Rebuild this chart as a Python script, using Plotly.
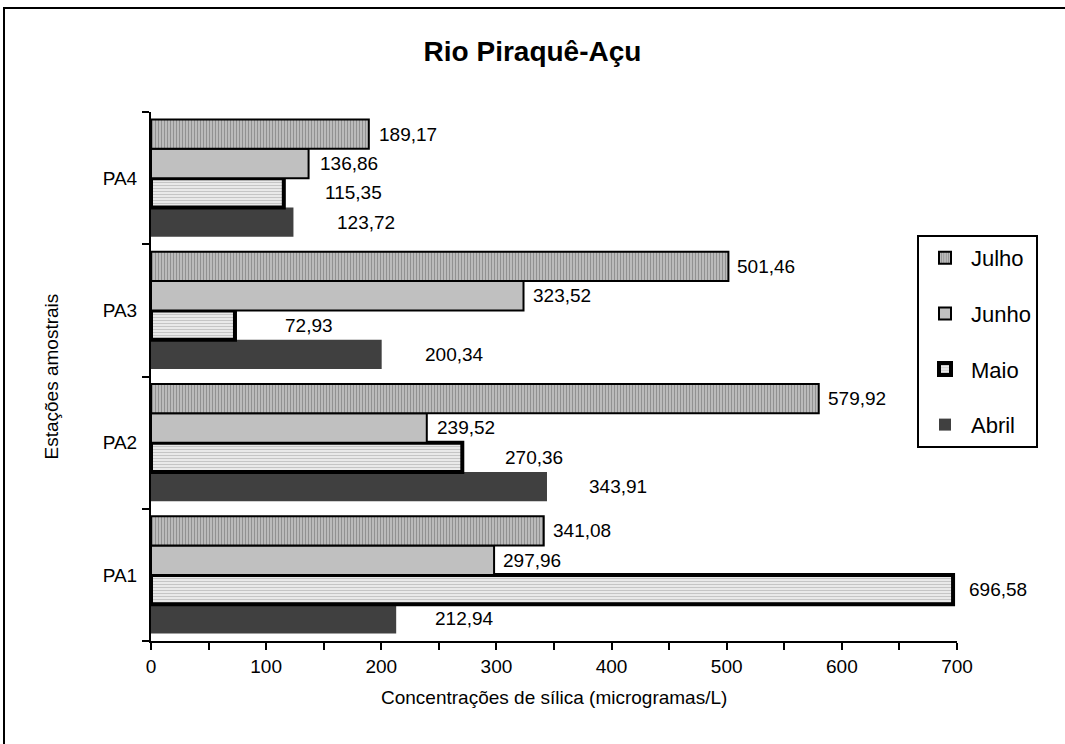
import plotly.graph_objects as go

# ---- data ----
stations = ["PA1", "PA2", "PA3", "PA4"]
abril = [212.94, 343.91, 200.34, 123.72]
maio = [696.58, 270.36, 72.93, 115.35]
junho = [297.96, 239.52, 323.52, 136.86]
julho = [341.08, 579.92, 501.46, 189.17]
x_ticks = [0, 100, 200, 300, 400, 500, 600, 700]

title_text = "Rio Piraquê-Açu"
x_title = "Concentrações de sílica (microgramas/L)"
y_title = "Estações amostrais"

# ---- styling ----
FONT = "Liberation Sans, Arial, sans-serif"
W, H = 1065, 744
PL, PR, PT, PB = 151, 957, 112, 641  # plot area in pixels

series = [
    dict(name="Abril", vals=abril, rank=4,
         marker=dict(color="#404040", line=dict(width=0, color="black")),
         shift=[68, 71, 73, 73], yoff=-1.5),
    dict(name="Maio", vals=maio, rank=3,
         marker=dict(color="white", line=dict(width=4, color="black"),
                     pattern=dict(shape="-", fgcolor="#9a9a9a", bgcolor="#f0f0f0",
                                  size=3, solidity=0.45)),
         shift=[45, 72, 74, 70], yoff=-0.5),
    dict(name="Junho", vals=junho, rank=2,
         marker=dict(color="#c0c0c0", line=dict(width=2, color="black")),
         shift=[38, 39, 38, 40], yoff=0.5),
    dict(name="Julho", vals=julho, rank=1,
         marker=dict(color="#b0b0b0", line=dict(width=2, color="black"),
                     pattern=dict(shape="|", fgcolor="#5a5a5a", bgcolor="#c8c8c8",
                                  size=3, solidity=0.5)),
         shift=[38, 38, 38, 39], yoff=1.5),
]

BARGAP = 0.114
band_px = (PB - PT) / len(stations)
bar_px = band_px * (1 - BARGAP) / len(series)

fig = go.Figure()
annotations = []
for s in series:
    fig.add_trace(go.Bar(
        y=stations, x=s["vals"], orientation="h", name=s["name"],
        marker=s["marker"], legendgroup=s["name"], legendrank=s["rank"],
    ))
    for st, v, sh in zip(stations, s["vals"], s["shift"]):
        annotations.append(dict(
            x=v, y=st, xref="x", yref="y", text=f"{v:.2f}".replace(".", ","),
            showarrow=False, xanchor="center", yanchor="middle",
            xshift=sh, yshift=s["yoff"] * bar_px,
            font=dict(family=FONT, size=19, color="black"),
        ))

pw, ph = PR - PL, PB - PT

def px_x(p):
    return (p - PL) / pw

def px_y(p):
    return (PB - p) / ph

annotations.append(dict(
    x=0.5, y=px_y(697), xref="paper", yref="paper", text=x_title,
    showarrow=False, xanchor="center", yanchor="middle",
    font=dict(family=FONT, size=19, color="black")))
annotations.append(dict(
    x=px_x(51), y=0.5, xref="paper", yref="paper", text=y_title, textangle=-90,
    showarrow=False, xanchor="center", yanchor="middle",
    font=dict(family=FONT, size=19, color="black")))

fig.update_layout(
    width=W, height=H,
    margin=dict(l=PL, r=W - PR, t=PT, b=H - PB, pad=0),
    paper_bgcolor="white", plot_bgcolor="white",
    barmode="group", bargap=BARGAP, bargroupgap=0,
    title=dict(text=f"<b>{title_text}</b>", x=0.5, xref="container",
               y=1 - 51 / H, yanchor="middle", xanchor="center",
               font=dict(family=FONT, size=28, color="black")),
    font=dict(family=FONT, size=19, color="black"),
    xaxis=dict(range=[0, 700], tickvals=x_ticks, ticks="outside", ticklen=7,
               tickwidth=2, tickcolor="black", showline=True, linewidth=2,
               linecolor="black", showgrid=False, zeroline=False,
               minor=dict(dtick=50, ticks="outside", ticklen=7, tickwidth=2,
                          tickcolor="black", showgrid=False),
               tickfont=dict(family=FONT, size=19, color="black")),
    yaxis=dict(categoryorder="array", categoryarray=stations,
               tickson="boundaries", ticks="outside", ticklen=7, tickwidth=2,
               tickcolor="black", showline=True, linewidth=2, linecolor="black",
               showgrid=False, zeroline=False, ticklabelstandoff=8,
               tickfont=dict(family=FONT, size=19, color="black")),
    legend=dict(x=px_x(917), y=px_y(235), xanchor="left", yanchor="top",
                xref="paper", yref="paper",
                traceorder="grouped", tracegroupgap=24, itemwidth=42,
                bgcolor="white", bordercolor="black", borderwidth=2,
                font=dict(family=FONT, size=22, color="black")),
    annotations=annotations,
    shapes=[dict(type="rect", xref="paper", yref="paper",
                 x0=px_x(4), x1=px_x(1075), y0=px_y(760), y1=px_y(8),
                 line=dict(color="black", width=2), fillcolor="rgba(0,0,0,0)",
                 layer="below")],
)

fig.write_html("out.html")
